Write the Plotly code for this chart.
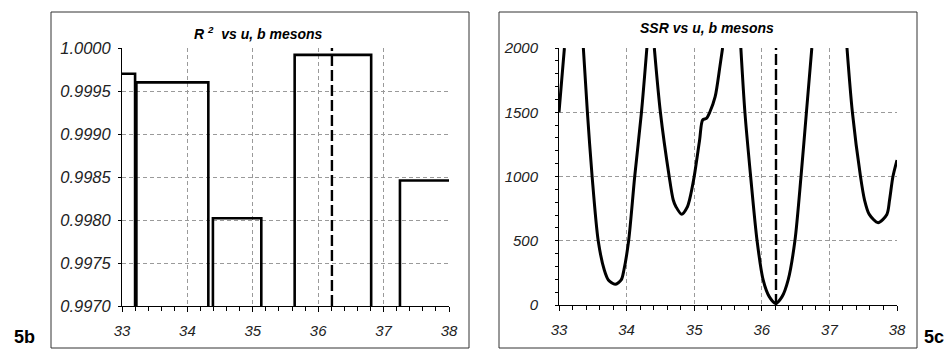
import plotly.graph_objects as go

W, H = 948, 349

# ---------------- data: panel 5b (R^2 vs u, step profile) ----------------
r2_u = [33.0, 33.20, 33.20, 33.22, 33.22, 34.32, 34.32, 34.39, 34.39, 35.13,
        35.13, 35.64, 35.64, 36.81, 36.81, 37.25, 37.25, 38.0]
r2_val = [0.99970, 0.99970, 0.99600, 0.99600, 0.99960, 0.99960, 0.99600, 0.99600,
          0.99802, 0.99802, 0.99600, 0.99600, 0.99992, 0.99992, 0.99600, 0.99600,
          0.99846, 0.99846]
u_best = 36.21

# ---------------- data: panel 5c (SSR vs u) ----------------
ssr_u_0 = [33.00, 33.04, 33.08]
ssr_v_0 = [1500, 1750, 2000]
ssr_u_1 = [33.36, 33.42, 33.49, 33.58, 33.67, 33.73, 33.83, 33.92, 33.96, 34.03, 34.12, 34.22, 34.30]
ssr_v_1 = [2000, 1500, 1000, 500, 272, 195, 161, 195, 272, 500, 1000, 1500, 2000]
ssr_u_2 = [34.41, 34.50, 34.63, 34.69, 34.73, 34.815, 34.90, 34.93, 35.00, 35.08, 35.125,
           35.18, 35.23, 35.31, 35.38, 35.42]
ssr_v_2 = [2000, 1500, 1000, 817, 765, 706, 765, 817, 1000, 1284, 1440,
           1452, 1500, 1621, 1855, 2000]
ssr_u_3 = [35.69, 35.75, 35.835, 35.93, 36.02, 36.11, 36.205, 36.30, 36.39, 36.49, 36.58, 36.66, 36.74]
ssr_v_3 = [2000, 1500, 1000, 500, 195, 65, 13, 65, 195, 500, 1000, 1500, 2000]
ssr_u_4 = [37.26, 37.34, 37.46, 37.52, 37.59, 37.72, 37.85, 37.89, 37.94, 38.00]
ssr_v_4 = [2000, 1500, 1000, 817, 705, 641, 705, 817, 1000, 1128]

x_ticks = [33, 34, 35, 36, 37, 38]
r2_ticks = [0.9970, 0.9975, 0.9980, 0.9985, 0.9990, 0.9995, 1.0000]
ssr_ticks = [0, 500, 1000, 1500, 2000]

FONT = "Liberation Sans, Arial, sans-serif"


def px(x):
    return x / W


def py(y):
    return (H - y) / H


fig = go.Figure()

fig.add_trace(go.Scatter(x=r2_u, y=r2_val, mode="lines",
                         line=dict(color="black", width=2.6),
                         xaxis="x", yaxis="y", showlegend=False, hoverinfo="skip"))
fig.add_trace(go.Scatter(x=[u_best, u_best], y=[0.9970, 1.0], mode="lines",
                         line=dict(color="black", width=2.4, dash="11px,4px"),
                         xaxis="x", yaxis="y", showlegend=False, hoverinfo="skip"))

for uu, vv in [(ssr_u_0, ssr_v_0), (ssr_u_1, ssr_v_1), (ssr_u_2, ssr_v_2),
               (ssr_u_3, ssr_v_3), (ssr_u_4, ssr_v_4)]:
    fig.add_trace(go.Scatter(x=uu, y=vv, mode="lines",
                             line=dict(color="black", width=3, shape="spline", smoothing=0.8),
                             xaxis="x2", yaxis="y2", showlegend=False, hoverinfo="skip"))
fig.add_trace(go.Scatter(x=[u_best, u_best], y=[0, 2000], mode="lines",
                         line=dict(color="black", width=2.4, dash="11px,4px"),
                         xaxis="x2", yaxis="y2", showlegend=False, hoverinfo="skip"))

tickfont = dict(family=FONT, size=15, color="#222", style="italic")
grid = dict(showgrid=True, gridcolor="#9a9a9a", gridwidth=1, griddash="4px,3px")

xcommon = dict(range=[33, 38], tickvals=x_ticks, ticktext=[str(t) for t in x_ticks],
               showline=True, linecolor="black", linewidth=1, ticks="outside",
               ticklen=5, tickcolor="black", tickfont=tickfont, zeroline=False,
               minor=dict(dtick=0.2, ticks="outside", ticklen=4, tickcolor="black", showgrid=False),
               ticklabelstandoff=6, fixedrange=True, automargin=False, **grid)

fig.update_layout(
    width=W, height=H, margin=dict(l=0, r=0, t=0, b=0, pad=0, autoexpand=False),
    paper_bgcolor="white", plot_bgcolor="white",
    xaxis=dict(domain=[px(122), px(449)], anchor="y", **xcommon),
    yaxis=dict(domain=[py(306), py(48)], anchor="x", range=[0.9970, 1.0000],
               tickvals=r2_ticks, ticktext=[f"{t:.4f}" for t in r2_ticks],
               showline=True, linecolor="black", linewidth=1, ticks="outside",
               ticklen=3, tickcolor="black", tickfont=dict(tickfont, size=16.5), zeroline=False,
               ticklabelstandoff=4, fixedrange=True, automargin=False, **grid),
    xaxis2=dict(domain=[px(559), px(897)], anchor="y2", **xcommon),
    yaxis2=dict(domain=[py(305), py(48)], anchor="x2", range=[0, 2000],
                tickvals=ssr_ticks, ticktext=[str(t) for t in ssr_ticks],
                showline=True, linecolor="black", linewidth=1, ticks="outside",
                ticklen=3, tickcolor="black", tickfont=tickfont, zeroline=False,
                minor=dict(dtick=100, ticks="outside", ticklen=3, tickcolor="black", showgrid=False),
                ticklabelstandoff=14, fixedrange=True, automargin=False, **grid),
    hovermode=False,
    shapes=[
        dict(type="rect", xref="paper", yref="paper", x0=px(51), x1=px(469),
             y0=py(348), y1=py(12), line=dict(color="#333", width=1)),
        dict(type="rect", xref="paper", yref="paper", x0=px(499), x1=px(917),
             y0=py(348), y1=py(12), line=dict(color="#333", width=1)),
    ],
    annotations=[
        dict(text="<b><i>R <sup>2</sup>  vs u, b mesons</i></b>", xref="paper", yref="paper",
             x=px(258), y=py(33), xanchor="center", yanchor="middle", showarrow=False,
             font=dict(family=FONT, size=14, color="black")),
        dict(text="<b><i>SSR vs u, b mesons</i></b>", xref="paper", yref="paper",
             x=px(707), y=py(28), xanchor="center", yanchor="middle", showarrow=False,
             font=dict(family=FONT, size=14, color="black")),
        dict(text="<b>5b</b>", xref="paper", yref="paper",
             x=px(24), y=py(337), xanchor="center", yanchor="middle", showarrow=False,
             font=dict(family=FONT, size=18, color="black")),
        dict(text="<b>5c</b>", xref="paper", yref="paper",
             x=px(934), y=py(337), xanchor="center", yanchor="middle", showarrow=False,
             font=dict(family=FONT, size=18, color="black")),
    ],
)

fig.write_html(
    "out.html", config={"displayModeBar": False, "staticPlot": True},
    post_script=(
        "var de=document.documentElement, b=document.body;"
        "de.style.margin='0';de.style.padding='0';de.style.overflow='hidden';"
        "b.style.margin='0';b.style.padding='0';b.style.overflow='hidden';"
        "var d=document.getElementById('{plot_id}');"
        "d.style.position='fixed';d.style.left='0px';d.style.top='0px';"
    ),
)
